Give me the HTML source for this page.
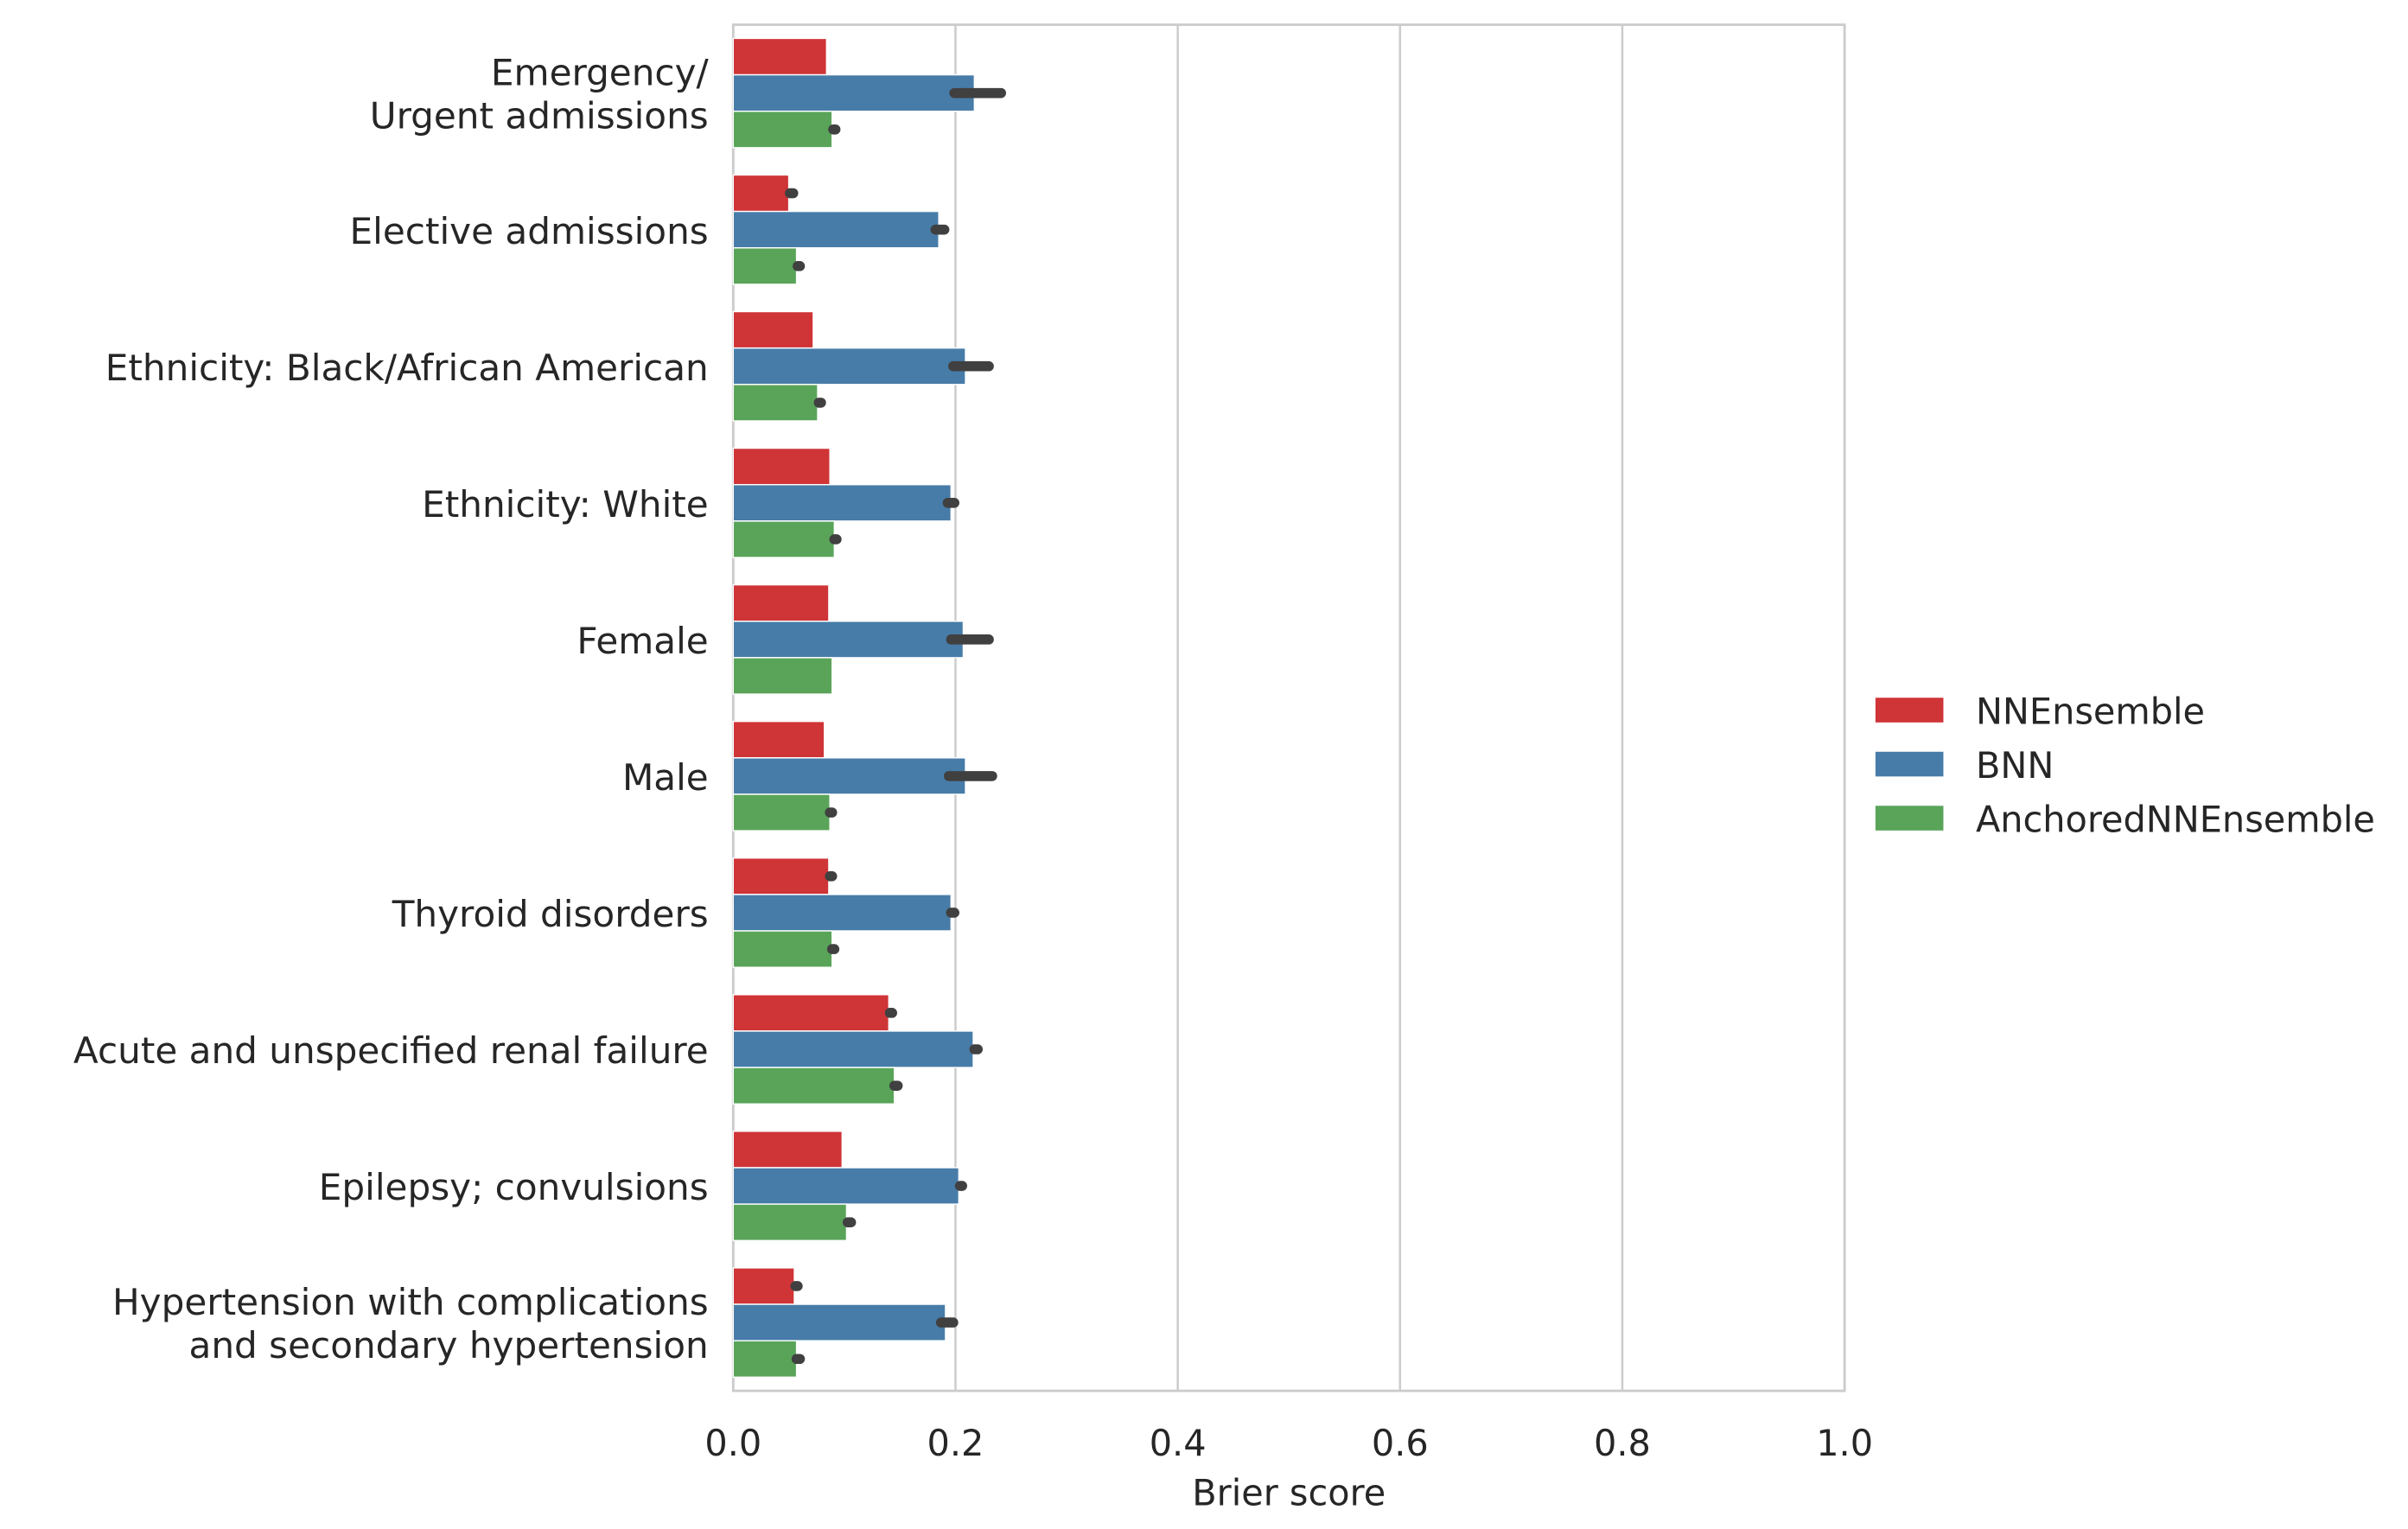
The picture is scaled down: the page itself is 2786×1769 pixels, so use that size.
<!DOCTYPE html>
<html><head><meta charset="utf-8"><style>html,body{margin:0;padding:0;background:#fff}svg{display:block}text{font-family:"DejaVu Sans","Liberation Sans",sans-serif;fill:#262626}</style></head>
<body>
<svg id="chart" width="2786" height="1769" viewBox="0 0 1560 990.5" xmlns="http://www.w3.org/2000/svg">
<g id="grid"></g><g id="bars"></g><g id="labels"></g>
<g>
<rect x="1215" y="452" width="44" height="16" fill="#cf3437"/>
<text x="1280" y="469" font-size="23.2">NNEnsemble</text>
<rect x="1215" y="487" width="44" height="16" fill="#477ca8"/>
<text x="1280" y="504" font-size="23.2">BNN</text>
<rect x="1215" y="522" width="44" height="16" fill="#59a459"/>
<text x="1280" y="539" font-size="23.2">AnchoredNNEnsemble</text>
</g>
</svg>
<script>
const categories=[["Emergency/","Urgent admissions"],["Elective admissions"],["Ethnicity: Black/African American"],["Ethnicity: White"],["Female"],["Male"],["Thyroid disorders"],["Acute and unspecified renal failure"],["Epilepsy; convulsions"],["Hypertension with complications ","and secondary hypertension"]];
const nnValues=[0.084,0.050,0.072,0.087,0.086,0.082,0.086,0.140,0.098,0.055];
const nnLo=[0.084,0.051,0.072,0.087,0.086,0.082,0.087,0.141,0.098,0.056];
const nnHi=[0.084,0.054,0.072,0.087,0.086,0.082,0.089,0.143,0.098,0.058];
const bnnValues=[0.217,0.185,0.209,0.196,0.207,0.209,0.196,0.216,0.203,0.191];
const bnnLo=[0.199,0.182,0.198,0.193,0.196,0.194,0.196,0.217,0.204,0.187];
const bnnHi=[0.241,0.190,0.230,0.199,0.230,0.233,0.199,0.220,0.206,0.198];
const anValues=[0.089,0.057,0.076,0.091,0.089,0.087,0.089,0.145,0.102,0.057];
const anLo=[0.090,0.058,0.077,0.091,0.089,0.087,0.089,0.145,0.103,0.057];
const anHi=[0.092,0.060,0.079,0.093,0.089,0.089,0.091,0.148,0.106,0.060];
const xTicks=[0,0.2,0.4,0.6,0.8,1.0];
const xTickLabels=["0.0","0.2","0.4","0.6","0.8","1.0"];
const NS="http://www.w3.org/2000/svg";
const X0=475,X1=1195,Y0=16,Y1=901;
const xs=v=>X0+(X1-X0)*v;
const band=(Y1-Y0)/categories.length;
const yc=i=>Y0+band*(i+0.5);
function mk(tag,attrs,parent){const e=document.createElementNS(NS,tag);for(const k in attrs)e.setAttribute(k,attrs[k]);parent.appendChild(e);return e;}
const grid=document.getElementById('grid'),bars=document.getElementById('bars'),labels=document.getElementById('labels');
xTicks.forEach((t,i)=>{
 const l=mk('line',{x1:xs(t),x2:xs(t),y1:Y0,y2:Y1,stroke:'#cccccc','stroke-width':1.4},grid);
 
 
 const tx=mk('text',{x:xs(t),y:943,'text-anchor':'middle','font-size':23.2},labels);
 tx.textContent=xTickLabels[i];
 
 
});
const frame=mk('rect',{x:X0,y:Y0,width:X1-X0,height:Y1-Y0,fill:'none',stroke:'#cccccc','stroke-width':1.6},grid);


const xt=mk('text',{x:(X0+X1)/2,y:975,'text-anchor':'middle','font-size':23.2},labels);
xt.textContent='Brier score';


const series=[[nnValues,nnLo,nnHi,'#cf3437','nnensemble'],[bnnValues,bnnLo,bnnHi,'#477ca8','bnn'],[anValues,anLo,anHi,'#59a459','anchored']];
const bw=band*0.8/3;
categories.forEach((c,i)=>{
 series.forEach((s,j)=>{
  const y=yc(i)-band*0.4+bw*j;
  const r=mk('rect',{x:X0,y:y,width:xs(s[0][i])-X0,height:bw,fill:s[3],stroke:'#fff','stroke-width':0.8},bars);
  
  
  if(s[2][i]>s[1][i]){
   const e=mk('line',{x1:xs(s[1][i]),x2:xs(s[2][i]),y1:y+bw/2,y2:y+bw/2,stroke:'#404040','stroke-width':6.5,'stroke-linecap':'round'},bars);
   
   
  }
 });
 const n=c.length;
 c.forEach((line,k)=>{
  const t=mk('text',{x:459,y:yc(i)+9+(k-(n-1)/2)*28,'text-anchor':'end','font-size':23.6},labels);
  t.setAttribute('xml:space','preserve');
  t.textContent=line;
  
  
 });
});
</script>
</body></html>
